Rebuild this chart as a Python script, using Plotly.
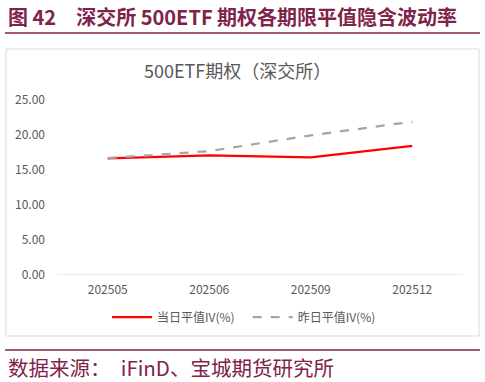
import plotly.graph_objects as go

categories = ["202505", "202506", "202509", "202512"]
iv_today = [16.65, 17.1, 16.8, 18.45]
iv_yesterday = [16.7, 17.7, 19.95, 21.9]
y_ticks = [0, 5, 10, 15, 20, 25]

W, H = 485, 382
def px(x):
    return x / W
def py(y):
    return (H - y) / H

maroon = "#80234A"
gray_txt = "#595959"
cjk = "Noto Sans CJK SC"

fig = go.Figure()
fig.add_trace(go.Scatter(x=categories, y=iv_today, mode="lines", name="当日平值IV(%)   ",
                         line=dict(color="#FF0000", width=2.25)))
fig.add_trace(go.Scatter(x=categories, y=iv_yesterday, mode="lines", name="昨日平值IV(%)",
                         line=dict(color="#A5A5A5", width=2.25, dash="dash")))

fig.update_layout(
    width=W, height=H, margin=dict(l=0, r=0, t=0, b=0, pad=0), autosize=False,
    paper_bgcolor="white", plot_bgcolor="white",
    font=dict(family=cjk, color=gray_txt, size=12),
    showlegend=True,
    legend=dict(orientation="h", x=px(107), y=py(317), xanchor="left", yanchor="middle",
                font=dict(size=12, color=gray_txt), itemwidth=40, tracegroupgap=0,
                bgcolor="rgba(0,0,0,0)"),
    xaxis=dict(domain=[px(57), px(463)], showgrid=False, zeroline=False, automargin=False,
               showline=False, ticks="", tickfont=dict(size=12, color=gray_txt),
               range=[-0.5, 3.5], type="category", ticklabelstandoff=6),
    yaxis=dict(domain=[py(275), py(100)], range=[0, 25], tickvals=y_ticks, automargin=False,
               tickformat=".2f", showgrid=False, zeroline=False, showline=False,
               ticks="", tickfont=dict(size=12, color=gray_txt), ticklabelstandoff=11),
    shapes=[
        dict(type="line", xref="paper", yref="paper", x0=px(5), x1=px(480), y0=py(33), y1=py(33),
             line=dict(color=maroon, width=1.5)),
        dict(type="rect", xref="paper", yref="paper", x0=px(6), x1=px(479), y0=py(336), y1=py(49),
             line=dict(color="#D9D9D9", width=1), fillcolor="rgba(0,0,0,0)", layer="below"),
        dict(type="line", xref="paper", yref="y", x0=px(57), x1=px(463), y0=0, y1=0,
             line=dict(color="#D9D9D9", width=1)),
        dict(type="line", xref="paper", yref="paper", x0=px(5), x1=px(480), y0=py(350), y1=py(350),
             line=dict(color=maroon, width=1.5)),
    ],
    annotations=[
        dict(text="<b>图 42　深交所 500ETF 期权各期限平值隐含波动率</b>", xref="paper", yref="paper",
             x=px(6), y=py(16), xanchor="left", yanchor="middle", showarrow=False,
             font=dict(family=cjk, size=20, color=maroon)),
        dict(text="500ETF期权（深交所）", xref="paper", yref="paper",
             x=px(237), y=py(70), xanchor="center", yanchor="middle", showarrow=False,
             font=dict(family=cjk, size=18, color=gray_txt)),
        dict(text="数据来源：　iFinD、宝城期货研究所", xref="paper", yref="paper",
             x=px(6), y=py(367), xanchor="left", yanchor="middle", showarrow=False,
             font=dict(family=cjk, size=20.5, color=maroon)),
    ],
)

fig.write_html("out.html")
